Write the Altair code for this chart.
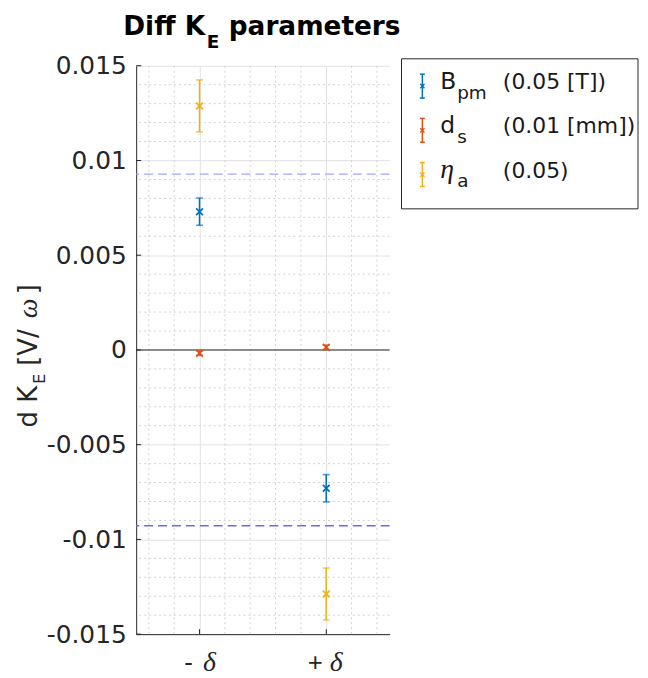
import altair as alt
import pandas as pd

# ---------------- data ----------------
categories = ["- δ", "+ δ"]
cat_pos = [1, 2]

params = ["B_pm", "d_s", "eta_a"]
param_colors = ["#0072BD", "#D95319", "#EDB120"]
param_main = ["B", "d", "η"]
param_sub = ["pm", "s", "a"]
param_step = ["(0.05 [T])", "(0.01 [mm])", "(0.05)"]

bpm_val = [0.0073, -0.0073]
bpm_err = [0.00072, 0.00072]
ds_val = [-0.00017, 0.00014]
ds_err = [0.00012, 0.00012]
eta_val = [0.01288, -0.01288]
eta_err = [0.00137, 0.00137]

limit_lines = [0.00928, -0.00928]
limit_colors = ["#a4a4ff", "#6a6af0"]

y_major = [-0.015, -0.01, -0.005, 0, 0.005, 0.01, 0.015]
y_minor = [-0.014, -0.013, -0.012, -0.011, -0.009, -0.008, -0.007, -0.006,
           -0.004, -0.003, -0.002, -0.001, 0.001, 0.002, 0.003, 0.004,
           0.006, 0.007, 0.008, 0.009, 0.011, 0.012, 0.013, 0.014]
x_minor = [0.6, 0.8, 1.2, 1.4, 1.6, 1.8, 2.2, 2.4]
x_domain = [0.5, 2.5]
y_domain = [-0.015, 0.015]

# ---------------- tables ----------------
rows = []
for p, vals, errs in zip(params, [bpm_val, ds_val, eta_val], [bpm_err, ds_err, eta_err]):
    for xp, v, e in zip(cat_pos, vals, errs):
        rows.append({"param": p, "x": xp, "value": v, "lo": v - e, "hi": v + e})
df = pd.DataFrame(rows)

W, H = 255, 572
AX = "#262626"
FONT = "DejaVu Sans"

xs = alt.Scale(domain=x_domain, nice=False, zero=False)
ys = alt.Scale(domain=y_domain, nice=False, zero=False)
xaxis = alt.Axis(values=cat_pos, labels=False, ticks=False, title=None, grid=True,
                 gridColor="#e2e2e2", gridWidth=1, domainColor=AX, domainWidth=1)
yaxis = alt.Axis(values=y_major, labelExpr="toString(datum.value)", title=None, grid=True,
                 gridColor="#e2e2e2", gridWidth=1, ticks=False, domainColor=AX, domainWidth=1,
                 labelFont=FONT, labelFontSize=25, labelColor=AX, labelPadding=10,
                 labelOverlap=False)


def X(field):
    return alt.X(field, scale=xs, axis=xaxis)


def Y(field):
    return alt.Y(field, scale=ys, axis=yaxis)


color = alt.Color("param:N", scale=alt.Scale(domain=params, range=param_colors), legend=None)
one = pd.DataFrame({"k": [0]})
XSHAPE = "M-1,-1L1,1M-1,1L1,-1"

layers = []

# minor grids
layers.append(alt.Chart(pd.DataFrame({"y": y_minor})).mark_rule(
    color="#d2d2d2", strokeDash=[2, 3], strokeWidth=1).encode(y=Y("y:Q")))
layers.append(alt.Chart(pd.DataFrame({"x": x_minor})).mark_rule(
    color="#d2d2d2", strokeDash=[2, 3], strokeWidth=1).encode(x=X("x:Q")))

# inward ticks
layers.append(alt.Chart(pd.DataFrame({"y": y_major})).mark_rule(color=AX).encode(
    y=Y("y:Q"), x=alt.value(0), x2=alt.value(5)))
layers.append(alt.Chart(pd.DataFrame({"x": cat_pos})).mark_rule(color=AX).encode(
    x=X("x:Q"), y=alt.value(H), y2=alt.value(H - 5)))

# zero line
layers.append(alt.Chart(pd.DataFrame({"y": [0]})).mark_rule(color=AX, strokeWidth=1).encode(y=Y("y:Q")))

# limit lines
for v, c in zip(limit_lines, limit_colors):
    layers.append(alt.Chart(pd.DataFrame({"y": [v]})).mark_rule(
        color=c, strokeDash=[9, 5], strokeWidth=1.4).encode(y=Y("y:Q")))

# error bars
base = alt.Chart(df)
layers.append(base.mark_rule(strokeWidth=1.6).encode(x=X("x:Q"), y=Y("lo:Q"), y2="hi:Q", color=color))
layers.append(base.mark_tick(orient="horizontal", size=7, thickness=1.6).encode(
    x=X("x:Q"), y=Y("lo:Q"), color=color))
layers.append(base.mark_tick(orient="horizontal", size=7, thickness=1.6).encode(
    x=X("x:Q"), y=Y("hi:Q"), color=color))
layers.append(base.mark_point(shape=XSHAPE, size=46, strokeWidth=1.8, filled=False, opacity=1).encode(
    x=X("x:Q"), y=Y("value:Q"), color=color))

# x tick labels
lab = pd.DataFrame({"x": cat_pos,
                    "sign": [c.split(" ")[0] for c in categories],
                    "greek": [c.split(" ")[1] for c in categories]})
layers.append(alt.Chart(lab).mark_text(font="Liberation Sans", fontSize=26, align="center",
                                       baseline="alphabetic", dx=-11, color=AX).encode(
    x=X("x:Q"), y=alt.value(H + 37), text="sign:N"))
layers.append(alt.Chart(lab).mark_text(font="Liberation Serif", fontStyle="italic", fontSize=28,
                                       align="center", baseline="alphabetic", dx=10, color=AX).encode(
    x=X("x:Q"), y=alt.value(H + 37), text="greek:N"))


def txt(text, x, y, size, font=FONT, style="normal", weight="normal", angle=0,
        align="left", color=AX):
    return alt.Chart(one).mark_text(text=text, font=font, fontSize=size, fontStyle=style,
                                    fontWeight=weight, angle=angle, align=align,
                                    baseline="alphabetic", color=color).encode(
        x=alt.value(x), y=alt.value(y))


# title
layers.append(txt("Diff K", -13, -31, 26.5, weight="bold", color="#000000"))
layers.append(txt("E", 71, -18, 18.5, weight="bold", color="#000000"))
layers.append(txt("parameters", 266, -31, 26.5, weight="bold", align="right", color="#000000"))

# y title (rotated)
layers.append(txt("d K", -100, 364, 26, angle=270))
layers.append(txt("E", -92, 320, 16, angle=270))
layers.append(txt("[V/", -100, 302, 26, angle=270))
layers.append(txt("ω", -100, 254, 28, font="Liberation Serif", style="italic", angle=270))
layers.append(txt("]", -100, 230, 26, angle=270))

# legend
layers.append(alt.Chart(one).mark_rect(fill="white", stroke=AX, strokeWidth=1).encode(
    x=alt.value(267), x2=alt.value(505), y=alt.value(-7), y2=alt.value(144)))
for i, (c, m, s, st) in enumerate(zip(param_colors, param_main, param_sub, param_step)):
    cy = 20.5 + 44.5 * i
    bl = 23.5 + 44.5 * i
    layers.append(alt.Chart(one).mark_rule(color=c, strokeWidth=1.5).encode(
        x=alt.value(288), y=alt.value(cy - 12), y2=alt.value(cy + 12)))
    for yy in (cy - 12, cy + 12):
        layers.append(alt.Chart(one).mark_rule(color=c, strokeWidth=1.5).encode(
            x=alt.value(285.5), x2=alt.value(290.5), y=alt.value(yy)))
    layers.append(alt.Chart(one).mark_point(shape=XSHAPE, size=18, strokeWidth=1.4, filled=False,
                                            opacity=1, color=c).encode(
        x=alt.value(288), y=alt.value(cy)))
    if m == "η":
        layers.append(txt(m, 306, bl, 28, font="Liberation Serif", style="italic", color="#1a1a1a"))
    else:
        layers.append(txt(m, 306, bl, 23.5, color="#1a1a1a"))
    layers.append(txt(s, 323, bl + 10, 18.5, color="#1a1a1a"))
    layers.append(txt(st, 369, bl, 22, color="#1a1a1a"))

chart = alt.layer(*layers).properties(
    width=W, height=H,
    autosize=alt.AutoSizeParams(type="none"),
    padding={"left": 129, "top": 56, "right": 252, "bottom": 42},
).configure_view(stroke=None)

chart.save("out.html", embed_options={"renderer": "svg", "actions": False})
